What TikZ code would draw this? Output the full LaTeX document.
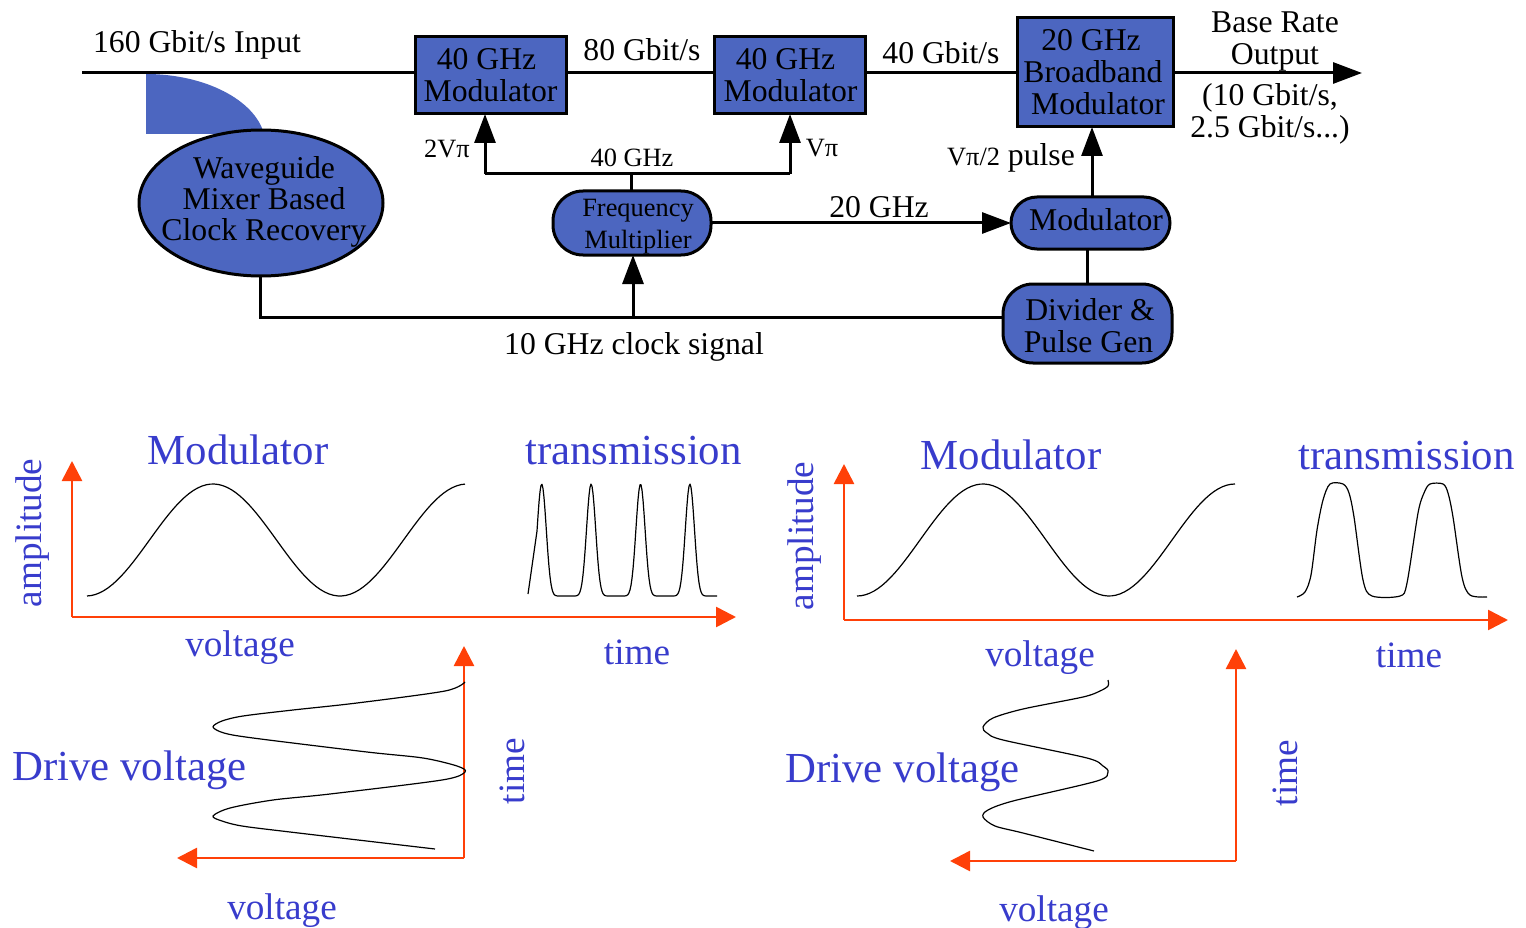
\documentclass[tikz,border=0pt]{standalone}
\usepackage{xcolor}
\usepackage{fontspec}
\setmainfont{Liberation Serif}
\usepackage{tikz}
\usetikzlibrary{shapes}
\usetikzlibrary{arrows.meta}
\usetikzlibrary{calc}
\usetikzlibrary{positioning}
\definecolor{boxblue}{RGB}{76,102,192}
\definecolor{axisred}{RGB}{255,64,8}
\definecolor{labelblue}{RGB}{56,60,204}

\begin{document}
\begin{tikzpicture}[
		x=1pt,
		y=-1pt,
		font=\fontsize{31.7pt}{32pt}\selectfont,
		line width=3,
		>={Triangle[length=29,width=21]}
	]
		\tikzset{
			blockbox/.style={
				draw,
				fill=boxblue,
				rectangle,
				inner sep=0,
				outer sep=0,
				align=center,
			},
			pillbox/.style={
				blockbox,
				rounded corners=#1,
			},
			smalltext/.style={font=\fontsize{26.4pt}{32pt}\selectfont},
			axis/.style={
				draw=axisred,
				line width=2.6,
				-{Triangle[length=20,width=20]},
				axisred,
			},
			bluetext/.style={text=labelblue,font=\fontsize{42.8pt}{44pt}\selectfont},
			axistext/.style={text=labelblue,font=\fontsize{37.2pt}{40pt}\selectfont},
			trace/.style={line width=1.2,line join=round},
		}

		\useasboundingbox (0,0) rectangle (1526,928);

		% coupler under the input line
		\fill[boxblue] (146,74) .. controls (205,74) and (255,100) .. (264,134) -- (146,134) -- cycle;

		\node[blockbox,minimum width=151,minimum height=77] (modA) at (490.5,75.5) {\hspace*{-8pt}40 GHz\\Modulator};
		\node[blockbox,minimum width=151,minimum height=77] (modB) at (789.5,75.5) {\hspace*{-8pt}40 GHz\\\hspace*{2pt}Modulator};
		\node[blockbox,minimum width=156,minimum height=109] (modC) at (1095,72.5) {\hspace*{-8pt}20 GHz\\\hspace*{-4pt}Broadband\\\hspace*{6pt}Modulator};
		\node[blockbox,ellipse,minimum width=244,minimum height=146] (recovery) at (261,203) {};
		\node[align=center] (recoverytext) at (264,201.5) {Waveguide\\[-1pt]Mixer Based\\[-1pt]Clock Recovery};
		\node[pillbox=30,minimum width=158,minimum height=64] (freq) at (632,223) {};
		\node[smalltext,align=center] (freqtext) at (638,227) {Frequency\\Multiplier};
		\node[pillbox=26,minimum width=159,minimum height=52] (pulsemod) at (1090.5,223) {};
		\node (pulsemodtext) at (1096,220) {Modulator};
		\node[pillbox=30,minimum width=169,minimum height=79] (divider) at (1087.5,323.5) {};
		\node[align=center] (dividertext) at (1088.5,325.5) {\hspace*{3pt}Divider \&\\Pulse Gen};

		\coordinate (input) at (82,73);
		\coordinate (output) at (1362,73);
		\coordinate (busA) at (485,174);
		\coordinate (busB) at (790,174);
		\coordinate (busMid) at (631,174);
		\coordinate (clockCorner) at (260,317);
		\coordinate (clockTap) at (633,317);
		\coordinate (pulseUp) at (1092,197);
		\coordinate (pulseDown) at (1087,284);

		\draw (input) -- (input -| modA.west);
		\draw (input -| modA.east) -- (input -| modB.west);
		\draw (input -| modB.east) -- (input -| modC.west);
		\draw[->] (modC.east |- output) -- (output);
		\draw[->] (busA) -- (busA |- modA.south);
		\draw[->] (busB) -- (busB |- modB.south);
		\draw (busA) -- (busB);
		\draw (busMid) -- (busMid |- freq.north);
		\draw (clockCorner |- recovery.south) -- (clockCorner) -- (clockCorner -| divider.west);
		\draw[->] (clockTap) -- (clockTap |- freq.south);
		\draw[->] (freq) -- (pulsemod);
		\draw[->] (pulseUp) -- (pulseUp |- modC.south);
		\draw (pulseDown) -- (pulseDown |- pulsemod.south);

		\node (inputlabel) at (197,45) {160 Gbit/s Input};
		\node (rateAB) at (642,50) {80 Gbit/s};
		\node (rateBC) at (941,53) {40 Gbit/s};
		\node[align=center] (outputlabel) at (1275,41.5) {Base Rate\\Output};
		\node[align=center] (ratelist) at (1270,114) {(10 Gbit/s,\\2.5 Gbit/s...)};
		\node[smalltext] (driveA) at (447,149) {2Vπ};
		\node[smalltext] (driveB) at (822,148) {Vπ};
		\node[smalltext] (ghzForty) at (632,158) {40 GHz};
		\node (ghzTwenty) at (879,207) {20 GHz};
		\node (pulselabel) at (1011,158) {{\fontsize{26.4pt}{32pt}\selectfont Vπ/2} pulse};
		\node (clocklabel) at (634,347) {10 GHz clock signal};

		% left plots
		\coordinate (cornerL) at (72,617);
		\coordinate (upL) at (72,461);
		\coordinate (rightL) at (736,617);
		\draw[axis] (cornerL) -- (upL);
		\draw[axis] (cornerL) -- (rightL);
		\draw[trace] plot[domain=87:465,samples=90] (\x,{540-56*cos((\x-213)*1.41732)});
		\draw[trace] (528,594) -- plot[domain=537:717,samples=181] (\x,{596-112*pow(abs(cos((\x-541.7)*3.64372)),12)});
		\coordinate (cornerLB) at (464,858);
		\coordinate (upLB) at (464,646);
		\coordinate (leftLB) at (177,858);
		\draw[axis] (cornerLB) -- (upLB);
		\draw[axis] (cornerLB) -- (leftLB);
		\draw[trace] plot[smooth,tension=0.5] coordinates {(465,682) (445,691) (357,703) (293,710) (243,716) (222,721) (213,727) (224,733) (253,738) (367,752) (423,758) (457,766) (465,772) (442,780) (330,794) (273,800) (230,808) (213,816) (222,821) (242,826) (290,832) (435,849)};

		\node[bluetext] (titleL) at (238,450) {Modulator};
		\node[bluetext] (transL) at (633.5,451) {transmission};
		\node[axistext,rotate=90] (ampL) at (33,533) {amplitude};
		\node[axistext] (voltL) at (240,648) {voltage};
		\node[axistext] (timeL) at (637,652) {time};
		\node[bluetext] (driveL) at (129.5,770) {Drive voltage};
		\node[axistext,rotate=90] (timeLB) at (512,771) {time};
		\node[axistext] (voltLB) at (282,911) {voltage};

		% right plots
		\coordinate (cornerR) at (844,620);
		\coordinate (upR) at (844,464);
		\coordinate (rightR) at (1508,620);
		\draw[axis] (cornerR) -- (upR);
		\draw[axis] (cornerR) -- (rightR);
		\draw[trace] plot[domain=857:1235,samples=90] (\x,{540-56*cos((\x-983)*1.42857)});
		\draw[trace] plot[smooth,tension=0.5] coordinates {(1297,597) (1305,592) (1311,575) (1317,530) (1323,500) (1330,484) (1343,484) (1349,493) (1354,517) (1363,580) (1372,596) (1400,596) (1407,583) (1418,513) (1424,493) (1430,484) (1443,484) (1448,493) (1453,517) (1462,577) (1470,595) (1487,597)};
		\coordinate (cornerRB) at (1236,861);
		\coordinate (upRB) at (1236,649);
		\coordinate (leftRB) at (950,861);
		\draw[axis] (cornerRB) -- (upRB);
		\draw[axis] (cornerRB) -- (leftRB);
		\draw[trace] plot[smooth,tension=0.5] coordinates {(1108,680) (1108,686) (1100,691) (1083,697) (1023,709) (993,718) (983,727) (987,733) (1003,740) (1087,758) (1103,766) (1108,772) (1097,781) (1013,801) (988,810) (983,817) (995,826) (1023,833) (1094,851)};

		\node[bluetext] (titleR) at (1011,455) {Modulator};
		\node[bluetext] (transR) at (1406.5,456) {transmission};
		\node[axistext,rotate=90] (ampR) at (805,536) {amplitude};
		\node[axistext] (voltR) at (1040,658) {voltage};
		\node[axistext] (timeR) at (1409,655) {time};
		\node[bluetext] (driveR) at (902.5,772) {Drive voltage};
		\node[axistext,rotate=90] (timeRB) at (1285,773) {time};
		\node[axistext] (voltRB) at (1054,913) {voltage};
	\end{tikzpicture}
\end{document}
